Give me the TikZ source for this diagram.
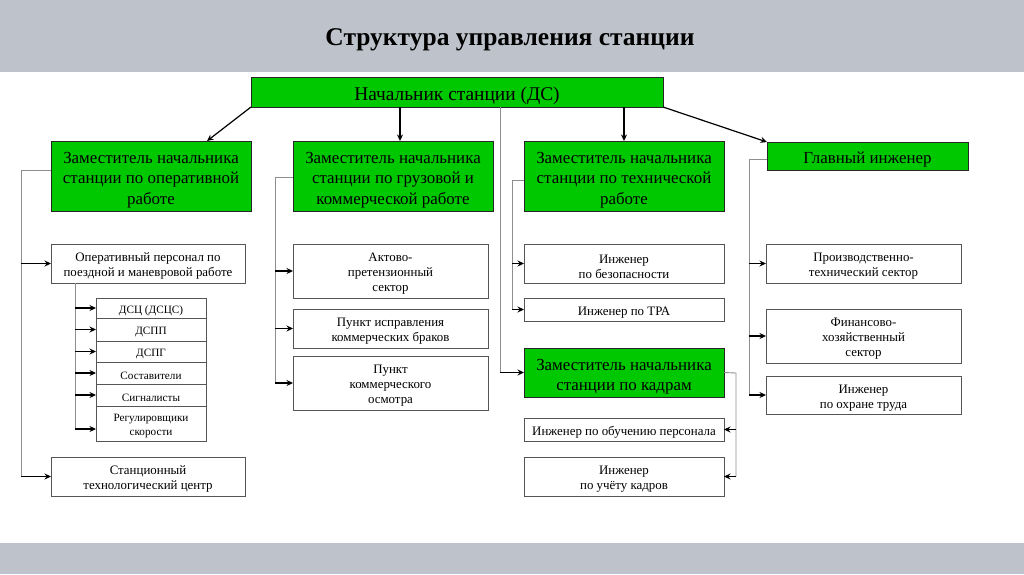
\documentclass[tikz,border=0pt]{standalone}
\usepackage{fontspec}
\setmainfont{Liberation Serif}
\usetikzlibrary{arrows.meta,calc}
\definecolor{band}{HTML}{BEC3CB}
\definecolor{grn}{HTML}{00C800}
\definecolor{trk}{HTML}{8E8E8E}
\definecolor{bord}{HTML}{555555}
\newcommand{\dn}{\rule{0pt}{1.14em}}
\tikzset{
  grnbox/.style={draw=black!85,fill=grn,line width=0.8pt,inner sep=0pt,outer sep=0pt,align=center,font=\fontsize{16.9}{20.5}\selectfont},
  wbox/.style={draw=bord,fill=white,line width=0.8pt,inner sep=0pt,outer sep=0pt,align=center,font=\fontsize{12.9}{15}\selectfont},
  sbox/.style={wbox,font=\fontsize{11.2}{14}\selectfont},
  trunk/.style={draw=trk,line width=0.9pt},
  arr/.style={draw=black,line width=1.2pt,-{Stealth[length=6.5pt,width=6pt]}},
}
\begin{document}
\begin{tikzpicture}[x=1pt,y=-1pt]
\useasboundingbox (0,0) rectangle (1024,574);
\fill[band] (0,0) rectangle (1024,72);
\fill[band] (0,543) rectangle (1024,574);
\node[font=\fontsize{25.5}{30}\selectfont\bfseries] (title) at (510,40) {Структура управления станции};
% top
\node[grnbox,minimum width=412pt,minimum height=30pt,font=\fontsize{19.4}{23}\selectfont] (top) at (457,92) {\dn Начальник станции (ДС)};
% level 2
\node[grnbox,minimum width=200pt,minimum height=70pt] (A) at (151,176) {\dn Заместитель начальника\\станции по оперативной\\работе};
\node[grnbox,minimum width=200pt,minimum height=70pt] (B) at (393,176) {\dn Заместитель начальника\\станции по грузовой и\\коммерческой работе};
\node[grnbox,minimum width=200pt,minimum height=70pt] (C) at (624,176) {\dn Заместитель начальника\\станции по технической\\работе};
\node[grnbox,minimum width=201pt,minimum height=28pt] (D) at (867.5,156) {\dn Главный инженер};
% left column
\node[wbox,minimum width=194pt,minimum height=39pt] (opp) at (148,263.5) {\dn Оперативный персонал по\\поездной и маневровой работе};
\node[sbox,minimum width=110pt,minimum height=20pt] (s1) at (151,308) {\dn ДСЦ (ДСЦС)};
\node[sbox,minimum width=110pt,minimum height=23pt] (s2) at (151,329.5) {\dn ДСПП};
\node[sbox,minimum width=110pt,minimum height=21pt] (s3) at (151,351.5) {\dn ДСПГ};
\node[sbox,minimum width=110pt,minimum height=22pt] (s4) at (151,373) {\dn Составители};
\node[sbox,minimum width=110pt,minimum height=22pt] (s5) at (151,395) {\dn Сигналисты};
\node[sbox,minimum width=110pt,minimum height=35pt] (s6) at (151,423.5) {\dn Регулировщики\\скорости};
\node[wbox,minimum width=194pt,minimum height=39pt] (stc) at (148,476.5) {\dn Станционный\\технологический центр};
% B column
\node[wbox,minimum width=195pt,minimum height=54pt] (akt) at (390.5,271) {\dn Актово-\\претензионный\\сектор};
\node[wbox,minimum width=195pt,minimum height=39pt] (pun1) at (390.5,328.5) {\dn Пункт исправления\\коммерческих браков};
\node[wbox,minimum width=195pt,minimum height=54pt] (pun2) at (390.5,383) {\dn Пункт\\коммерческого\\осмотра};
% C column
\node[wbox,minimum width=200pt,minimum height=39pt] (bez) at (624,263.5) {\dn Инженер\\по безопасности};
\node[wbox,minimum width=200pt,minimum height=23pt] (tra) at (624,309.5) {\dn Инженер по ТРА};
\node[grnbox,minimum width=200pt,minimum height=49pt] (E) at (624,372.5) {\dn Заместитель начальника\\станции по кадрам};
\node[wbox,minimum width=200pt,minimum height=23pt] (obu) at (624,429.5) {\dn Инженер по обучению персонала};
\node[wbox,minimum width=200pt,minimum height=39pt] (uch) at (624,476.5) {\dn Инженер\\по учёту кадров};
% D column
\node[wbox,minimum width=195pt,minimum height=39pt] (pts) at (863.5,263.5) {\dn Производственно-\\технический сектор};
\node[wbox,minimum width=195pt,minimum height=54pt] (fin) at (863.5,336) {\dn Финансово-\\хозяйственный\\сектор};
\node[wbox,minimum width=195pt,minimum height=38pt] (ohr) at (863.5,395) {\dn Инженер\\по охране труда};
% top arrows
\draw[arr] (top.south west) -- ([xshift=56pt]A.north);
\draw[arr] ([xshift=7pt]B.north |- top.south) -- ([xshift=7pt]B.north);
\draw[arr] (C.north |- top.south) -- (C.north);
\draw[arr] (top.south east) -- (D.north west);
% A trunk
\coordinate (ta) at (21,170);
\draw[trunk] ([yshift=6pt]A.west) -- (ta) -- (ta |- stc.west);
\draw[arr] (ta |- opp.west) -- (opp.west);
\draw[arr] (ta |- stc.west) -- (stc.west);
% opp sub trunk
\coordinate (tb) at (75,283);
\draw[trunk] (opp.south -| tb) -- ([yshift=-5.5pt]tb |- s6.west);
\foreach \s in {s1,s2,s3,s4,s5}{\draw[arr] (tb |- \s.west) -- (\s.west);}
\draw[arr] ([yshift=-5.5pt]tb |- s6.west) -- ([yshift=-5.5pt]s6.west);
% B trunk
\coordinate (tbb) at (275,177);
\draw[trunk] ([yshift=-1pt]B.west) -- (tbb) -- (tbb |- pun2.west);
\foreach \s in {akt,pun1,pun2}{\draw[arr] (tbb |- \s.west) -- (\s.west);}
% C trunk
\coordinate (tc) at (512,180);
\draw[trunk] ([yshift=-4pt]C.west) -- (tc) -- (tc |- tra.west);
\foreach \s in {bez,tra}{\draw[arr] (tc |- \s.west) -- (\s.west);}
% E trunk from top
\coordinate (te) at (500,107);
\draw[trunk] (te) -- (te |- E.west);
\draw[arr] (te |- E.west) -- (E.west);
% E right
\coordinate (tr) at (736,373);
\draw[trunk] (E.east) -- (tr) -- (tr |- uch.east);
\foreach \s in {obu,uch}{\draw[arr] (tr |- \s.east) -- (\s.east);}
% D trunk
\coordinate (td) at (749,159);
\draw[trunk] ([yshift=-3pt]D.west) -- (td) -- (td |- ohr.west);
\foreach \s in {pts,fin,ohr}{\draw[arr] (td |- \s.west) -- (\s.west);}
\end{tikzpicture}
\end{document}
